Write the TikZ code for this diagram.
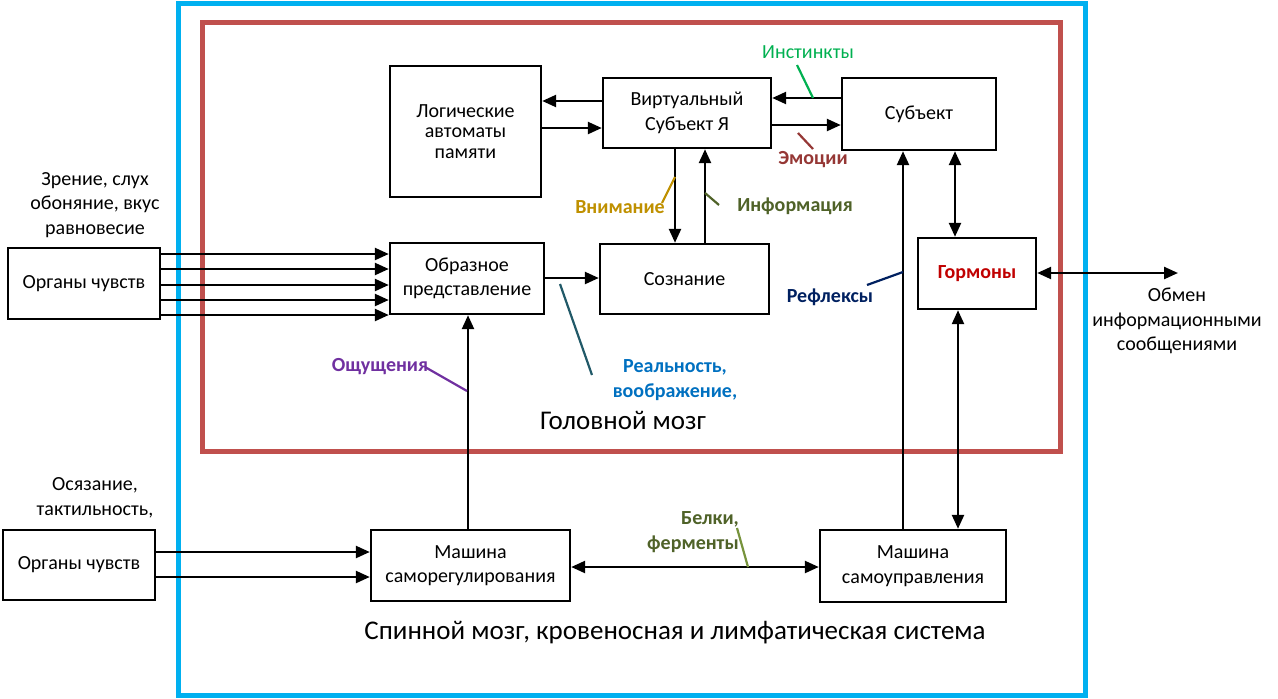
\documentclass[tikz,border=0pt]{standalone}
\usepackage{fontspec}
\setmainfont{Carlito}
\usetikzlibrary{arrows.meta}
\definecolor{Cspine}{HTML}{00B0F0}
\definecolor{Cbrain}{HTML}{C0504D}
\definecolor{Cinst}{HTML}{00B050}
\definecolor{Cemo}{HTML}{953735}
\definecolor{Catt}{HTML}{BF9000}
\definecolor{Cinfo}{HTML}{4F6228}
\definecolor{Crefl}{HTML}{002060}
\definecolor{Csens}{HTML}{7030A0}
\definecolor{Creal}{HTML}{0070C0}
\definecolor{Creallead}{HTML}{215968}
\definecolor{Cprotlead}{HTML}{77933C}
\definecolor{Chorm}{HTML}{C00000}
\newcommand{\txtsize}{\fontsize{20}{24.5}\selectfont}
\newcommand{\bigsize}{\fontsize{27}{32}\selectfont}
\tikzset{
  box/.style={draw, line width=2.4pt, inner sep=0pt, align=center, font=\txtsize},
  lbl/.style={inner sep=0pt, align=center, font=\txtsize},
  blbl/.style={inner sep=0pt, align=center, font=\txtsize\bfseries},
  arr/.style={line width=2.4pt, -{Triangle[length=14pt,width=12pt]}},
  darr/.style={line width=2.4pt, {Triangle[length=14pt,width=12pt]}-{Triangle[length=14pt,width=12pt]}},
  lead/.style={line width=2.2pt, #1}
}
\begin{document}
\begin{tikzpicture}[x=1pt,y=-1pt]
\useasboundingbox (0,0) rectangle (1278,699);
% frames
\draw[Cspine, line width=5pt] (178,3) rectangle (1085,695);
\draw[Cbrain, line width=5pt] (202,22) rectangle (1060,451);
\node[lbl, font=\bigsize] (brainL) at (623,420) {Головной мозг};
\node[lbl, font=\bigsize] (spineL) at (675,633) {Спинной мозг, кровеносная и лимфатическая система};
% boxes
\node[box, minimum width=151pt, minimum height=131pt, font=\fontsize{20}{20.5}\selectfont] (logic) at (465.5,131.5) {Логические\\автоматы\\памяти};
\node[box, minimum width=168pt, minimum height=70pt] (virt) at (687,113) {Виртуальный\\Субъект Я};
\node[box, minimum width=154pt, minimum height=72pt] (subj) at (919,114) {Субъект};
\node[box, minimum width=154pt, minimum height=71pt] (image) at (467,278.5) {Образное\\представление};
\node[box, minimum width=169pt, minimum height=70pt] (consc) at (684.5,279) {Сознание};
\node[box, minimum width=118pt, minimum height=71pt, text=Chorm, font=\txtsize\bfseries] (horm) at (977,273.5) {Гормоны};
\node[box, minimum width=152pt, minimum height=71pt] (org1) at (84,283.5) {Органы чувств};
\node[box, minimum width=152pt, minimum height=70pt] (org2) at (79,565) {Органы чувств};
\node[box, minimum width=199pt, minimum height=71pt] (reg) at (470.5,565.5) {Машина\\саморегулирования};
\node[box, minimum width=186pt, minimum height=72pt] (self) at (913,566) {Машина\\самоуправления};
\coordinate (xch) at (1178,273);
% outer texts
\node[lbl] (sightL) at (95,205) {Зрение, слух\\обоняние, вкус\\равновесие};
\node[lbl] (touchL) at (95,498) {Осязание,\\тактильность,};
\node[lbl] (xchL) at (1177,321) {Обмен\\информационными\\сообщениями};
% arrows
\draw[arr] (virt.west |- 0,101) -- (logic.east |- 0,101);
\draw[arr] (logic.east |- 0,128) -- (virt.west |- 0,128);
\draw[arr] (subj.west |- 0,98) -- (virt.east |- 0,98);
\draw[arr] (virt.east |- 0,125) -- (subj.west |- 0,125);
\draw[arr] (virt.south -| 675,0) -- (consc.north -| 675,0);
\draw[arr] (consc.north -| 705,0) -- (virt.south -| 705,0);
\draw[arr] (image.east |- 0,278) -- (consc.west |- 0,278);
\draw[darr] (subj.south -| 955,0) -- (horm.north -| 955,0);
\draw[darr] (horm.east |- xch) -- (xch);
\draw[darr] (horm.south -| 958,0) -- (self.north -| 958,0);
\draw[arr] (self.north -| 903,0) -- (subj.south -| 903,0);
\draw[arr] (reg.north -| 468,0) -- (image.south -| 468,0);
\draw[darr] (reg.east |- 0,567) -- (self.west |- 0,567);
\foreach \y in {254,269,285,300,315}
  \draw[arr] (org1.east |- 0,\y) -- (image.west |- 0,\y);
\foreach \y in {552,577}
  \draw[arr] (org2.east |- 0,\y) -- (reg.west |- 0,\y);
% labels with leaders
\node[lbl, text=Cinst] (instL) at (808,52) {Инстинкты};
\node[blbl, text=Cemo] (emoL) at (813,160) {Эмоции};
\node[blbl, text=Catt] (attL) at (620,207) {Внимание};
\node[blbl, text=Cinfo] (infoL) at (795,206) {Информация};
\node[blbl, text=Crefl] (reflL) at (830,297) {Рефлексы};
\node[blbl, text=Csens] (sensL) at (380,367) {Ощущения};
\node[blbl, text=Creal] (realL) at (675,380) {Реальность,\\воображение,};
\node[blbl, text=Cinfo, align=right, anchor=east] (protL) at (739,532) {Белки,\\ферменты};
\coordinate (instA) at (797,65);  \coordinate (instB) at (813,98);
\coordinate (emoA) at (798,133);  \coordinate (emoB) at (813,149);
\coordinate (attA) at (662,203);  \coordinate (attB) at (675,177);
\coordinate (infoA) at (705,193); \coordinate (infoB) at (719,205);
\coordinate (reflA) at (867,285); \coordinate (reflB) at (903,272);
\coordinate (sensA) at (425,367); \coordinate (sensB) at (467,391);
\coordinate (realA) at (560,284); \coordinate (realB) at (592,375);
\coordinate (protA) at (737,528); \coordinate (protB) at (748,567);
\draw[lead=Cinst] (instA) -- (instB);
\draw[lead=Cemo] (emoA) -- (emoB);
\draw[lead=Catt] (attA) -- (attB);
\draw[lead=Cinfo] (infoA) -- (infoB);
\draw[lead=Crefl] (reflA) -- (reflB);
\draw[lead=Csens] (sensA) -- (sensB);
\draw[lead=Creallead] (realA) -- (realB);
\draw[lead=Cprotlead] (protA) -- (protB);
\end{tikzpicture}
\end{document}
